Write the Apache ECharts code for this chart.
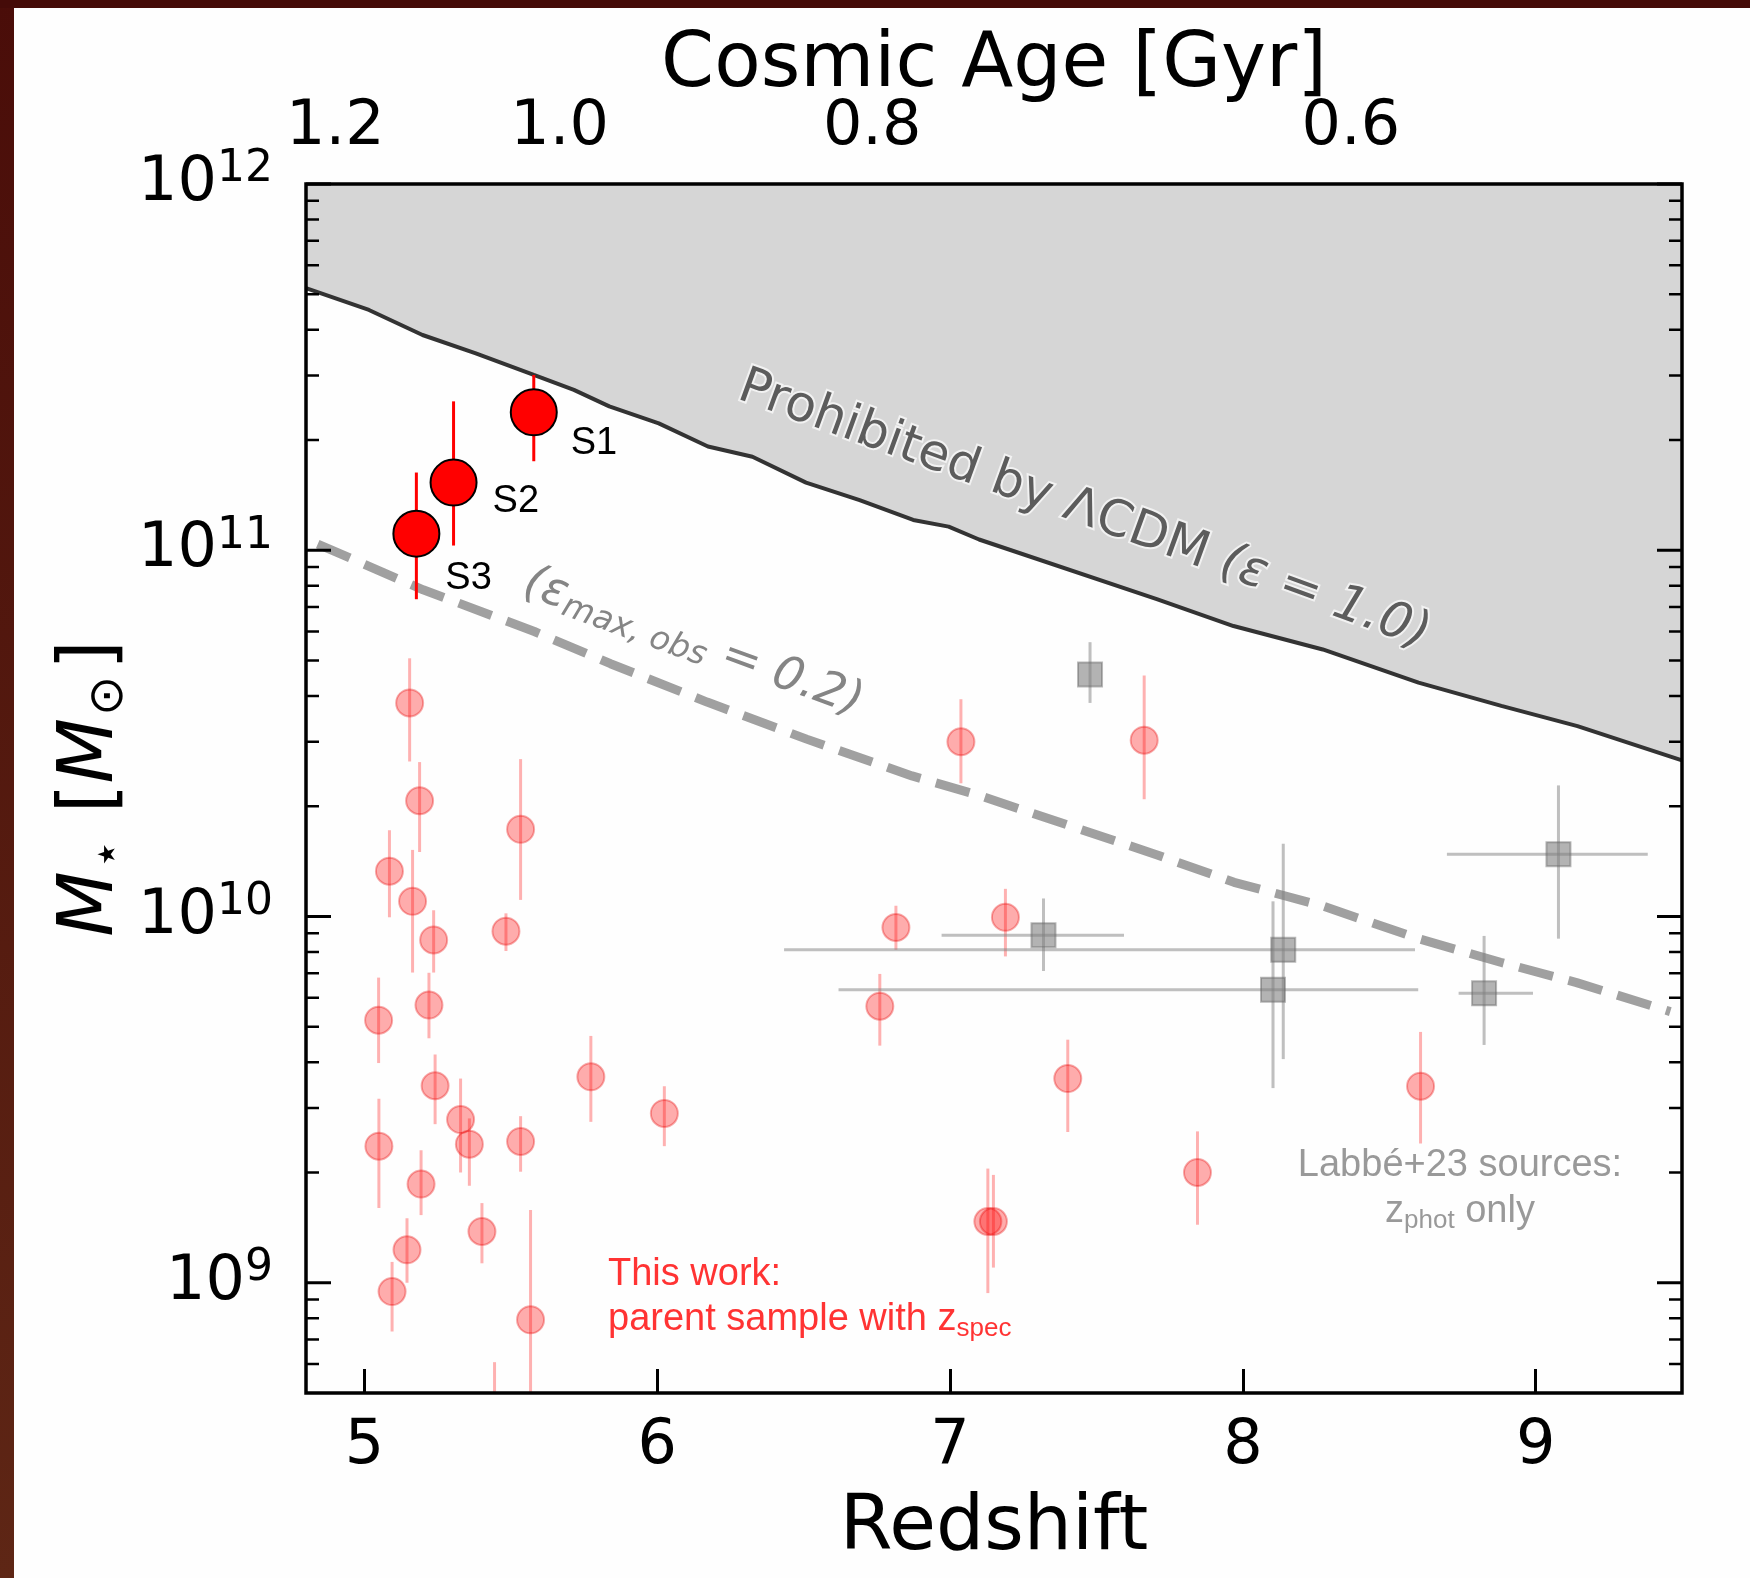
<!DOCTYPE html>
<html>
<head>
<meta charset="utf-8">
<script src="https://cdn.jsdelivr.net/npm/echarts@6/dist/echarts.min.js"></script>
<style>
  html, body { margin: 0; padding: 0; background: #fefefe; }
  #chart { width: 1750px; height: 1578px; }
</style>
</head>
<body>
<div id="chart"></div>
<script>
// ---- axis ticks and labels ----
const zTicks = [5, 6, 7, 8, 9];
const ageLabels = ['1.2', '1.0', '0.8', '0.6'];
const ageTickZ = [4.90, 5.666, 6.734, 8.369];
const massMajor = [1e9, 1e10, 1e11, 1e12];
const massMinor = [6e8, 7e8, 8e8, 9e8,
  2e9, 3e9, 4e9, 5e9, 6e9, 7e9, 8e9, 9e9,
  2e10, 3e10, 4e10, 5e10, 6e10, 7e10, 8e10, 9e10,
  2e11, 3e11, 4e11, 5e11, 6e11, 7e11, 8e11, 9e11];

// ---- LCDM maximum stellar mass (epsilon = 1.0) ----
const limitZ = [4.80, 5.015, 5.198, 5.380, 5.578, 5.715, 5.836, 6.005, 6.173, 6.325, 6.508,
  6.691, 6.874, 6.995, 7.099, 7.706, 7.968, 8.273, 8.600, 8.883, 9.143, 9.50];
const limitMass = [5.20e11, 4.53e11, 3.87e11, 3.45e11, 3.01e11, 2.74e11, 2.47e11, 2.22e11, 1.92e11,
  1.80e11, 1.53e11, 1.37e11, 1.21e11, 1.16e11, 1.07e11, 7.35e10, 6.21e10, 5.36e10, 4.35e10,
  3.76e10, 3.31e10, 2.67e10];

// ---- epsilon_max,obs = 0.2 curve ----
const obsZ = [4.84, 5.20, 5.58, 5.84, 6.17, 6.51, 6.87, 7.10, 7.71, 7.97, 8.27, 8.60, 8.88, 9.14, 9.46];
const obsMass = [1.04e11, 7.8e10, 6.0e10, 4.9e10, 3.85e10, 3.05e10, 2.42e10, 2.14e10, 1.47e10,
  1.24e10, 1.07e10, 8.7e9, 7.5e9, 6.6e9, 5.5e9];

// ---- parent sample with spectroscopic redshifts ----
const parentZ = [5.154, 5.188, 5.085, 5.164, 5.236, 5.483, 5.533, 5.048, 5.220, 5.241, 5.328,
  5.358, 5.049, 5.193, 5.533, 5.773, 6.024, 5.401, 5.145, 5.094, 5.567, 5.444,
  7.037, 7.663, 6.815, 7.189, 6.760, 7.402, 8.607, 7.845, 7.129, 7.148];
const parentMass = [3.83e10, 2.07e10, 1.33e10, 1.10e10, 8.63e9, 9.12e9, 1.73e10, 5.21e9, 5.73e9,
  3.45e9, 2.79e9, 2.39e9, 2.36e9, 1.86e9, 2.43e9, 3.65e9, 2.90e9, 1.38e9, 1.23e9, 9.46e8,
  7.92e8, 4.0e8,
  3.00e10, 3.03e10, 9.33e9, 9.95e9, 5.69e9, 3.61e9, 3.44e9, 2.00e9, 1.47e9, 1.47e9];
const parentMassLo = [2.65e10, 1.50e10, 9.95e9, 7.03e9, 7.03e9, 8.05e9, 1.11e10, 3.98e9, 4.65e9,
  2.71e9, 2.00e9, 1.84e9, 1.60e9, 1.53e9, 2.01e9, 2.75e9, 2.36e9, 1.13e9, 1.00e9, 7.36e8,
  3.0e8, 2.0e8,
  2.31e10, 2.09e10, 8.11e9, 7.78e9, 4.44e9, 2.58e9, 2.40e9, 1.44e9, 9.37e8, 1.10e9];
const parentMassHi = [5.07e10, 2.64e10, 1.72e10, 1.52e10, 1.04e10, 1.02e10, 2.69e10, 6.81e9, 7.02e9,
  4.20e9, 3.61e9, 2.81e9, 3.18e9, 2.30e9, 2.85e9, 4.72e9, 3.44e9, 1.65e9, 1.50e9, 1.14e9,
  1.58e9, 6.07e8,
  3.92e10, 4.55e10, 1.07e10, 1.19e10, 6.97e9, 4.61e9, 4.84e9, 2.59e9, 2.05e9, 1.97e9];

// ---- Labbe+23 photometric sources ----
const labbeZ = [7.478, 7.319, 8.138, 8.103, 8.824, 9.078];
const labbeZLo = [7.478, 6.971, 6.433, 6.619, 8.737, 8.697];
const labbeZHi = [7.478, 7.594, 8.588, 8.599, 8.991, 9.383];
const labbeMass = [4.58e10, 8.89e9, 8.11e9, 6.31e9, 6.17e9, 1.48e10];
const labbeMassLo = [3.83e10, 7.10e9, 4.08e9, 3.40e9, 4.46e9, 8.70e9];
const labbeMassHi = [5.61e10, 1.12e10, 1.58e10, 1.10e10, 8.85e9, 2.28e10];

// ---- massive sources S1-S3 ----
const sNames = ['S1', 'S2', 'S3'];
const sZ = [5.578, 5.304, 5.177];
const sMass = [2.38e11, 1.53e11, 1.11e11];
const sMassLo = [1.75e11, 1.03e11, 7.35e10];
const sMassHi = [3.01e11, 2.55e11, 1.63e11];

// ------------------------------------------------------------------
const X_MIN = 4.8, X_MAX = 9.5, Y_MIN = 5e8, Y_MAX = 1e12;
const GRID = { left: 306, top: 184, width: 1376, height: 1209 };
const SANS = 'DejaVu Sans';
const HELV = 'Liberation Sans';

const zip = (...cols) => cols[0].map((_, i) => cols.map(c => c[i]));

function vErrItem(params, api, color, width) {
  const p0 = api.coord([api.value(0), api.value(1)]);
  const p1 = api.coord([api.value(0), api.value(2)]);
  return { type: 'line', shape: { x1: p0[0], y1: p0[1], x2: p1[0], y2: p1[1] },
           style: { stroke: color, lineWidth: width } };
}
function hErrItem(params, api, color, width) {
  const p0 = api.coord([api.value(0), api.value(1)]);
  const p1 = api.coord([api.value(2), api.value(1)]);
  return { type: 'line', shape: { x1: p0[0], y1: p0[1], x2: p1[0], y2: p1[1] },
           style: { stroke: color, lineWidth: width } };
}
function yTickRenderer(len, width) {
  return (params, api) => {
    const cs = params.coordSys;
    const y = api.coord([api.value(0), api.value(1)])[1];
    return { type: 'group', children: [
      { type: 'line', shape: { x1: cs.x, y1: y, x2: cs.x + len, y2: y },
        style: { stroke: '#000', lineWidth: width } },
      { type: 'line', shape: { x1: cs.x + cs.width - len, y1: y, x2: cs.x + cs.width, y2: y },
        style: { stroke: '#000', lineWidth: width } }
    ] };
  };
}

const chart = echarts.init(document.getElementById('chart'), null, { renderer: 'canvas' });

const option = {
  backgroundColor: '#fefefe',
  animation: false,
  grid: Object.assign({ outerBoundsMode: 'none', containLabel: false }, GRID),
  xAxis: [
    {
      type: 'value', position: 'bottom', min: X_MIN, max: X_MAX,
      axisLine: { show: false }, splitLine: { show: false },
      axisTick: { show: true, inside: true, length: 24, customValues: zTicks,
                  lineStyle: { color: '#000', width: 3 } },
      axisLabel: { customValues: zTicks, fontSize: 62, fontFamily: SANS, color: '#000', margin: 23 },
      name: 'Redshift', nameLocation: 'middle', nameGap: 98, nameMoveOverlap: false,
      nameTextStyle: { fontSize: 76, fontFamily: SANS, color: '#000' }
    },
    {
      type: 'value', position: 'top', min: X_MIN, max: X_MAX,
      axisLine: { show: false }, splitLine: { show: false },
      axisTick: { show: true, inside: true, length: 25, customValues: ageTickZ,
                  lineStyle: { color: '#000', width: 3 } },
      axisLabel: {
        customValues: ageTickZ, fontSize: 62, fontFamily: SANS, color: '#000', margin: 25,
        formatter: v => {
          let best = 0;
          ageTickZ.forEach((z, i) => { if (Math.abs(z - v) < Math.abs(ageTickZ[best] - v)) best = i; });
          return ageLabels[best];
        }
      },
      name: 'Cosmic Age [Gyr]', nameLocation: 'middle', nameGap: 80, nameMoveOverlap: false,
      nameTextStyle: { fontSize: 76, fontFamily: SANS, color: '#000' }
    }
  ],
  yAxis: [
    {
      type: 'log', logBase: 10, min: Y_MIN, max: Y_MAX,
      axisLine: { show: false }, splitLine: { show: false },
      axisTick: { show: false }, minorTick: { show: false },
      axisLabel: {
        margin: 33,
        formatter: v => {
          const e = Math.log10(v), n = Math.round(e);
          return Math.abs(e - n) < 1e-6 && massMajor.some(m => Math.abs(Math.log10(m) - n) < 1e-6)
            ? '{b|10}{s|' + n + '}' : '';
        },
        rich: {
          b: { fontSize: 62, fontFamily: SANS, color: '#000', lineHeight: 72 },
          s: { fontSize: 44, fontFamily: SANS, color: '#000', lineHeight: 40, verticalAlign: 'top' }
        }
      },
      name: '{i|M}{st|⋆}{n|[}{i|M}{sun|⊙}{n|]}',
      nameLocation: 'middle', nameGap: 172, nameMoveOverlap: false,
      nameTextStyle: {
        rich: {
          i: { fontSize: 76, fontFamily: SANS, fontStyle: 'italic', color: '#000', lineHeight: 84 },
          n: { fontSize: 76, fontFamily: SANS, color: '#000', lineHeight: 84 },
          st: { fontSize: 48, fontFamily: SANS, color: '#000', lineHeight: 42, verticalAlign: 'bottom',
                padding: [0, 26, 0, 2] },
          sun: { fontSize: 48, fontFamily: SANS, color: '#000', lineHeight: 48, verticalAlign: 'bottom',
                 padding: [0, 6, 0, 2] }
        }
      }
    }
  ],
  series: [
    {
      name: 'LCDM limit', type: 'line', z: 1,
      data: zip(limitZ, limitMass), showSymbol: false, symbol: 'none',
      lineStyle: { color: '#333333', width: 4 },
      areaStyle: { color: '#d6d6d6', opacity: 1, origin: 'end' },
      silent: true
    },
    {
      name: 'eps obs', type: 'line', z: 2,
      data: zip(obsZ, obsMass), showSymbol: false, symbol: 'none',
      lineStyle: { color: '#a0a0a0', width: 9, type: [35, 16], cap: 'butt' },
      silent: true
    },
    {
      name: 'parent err', type: 'custom', z: 3, clip: true,
      data: zip(parentZ, parentMassLo, parentMassHi),
      encode: { x: 0, y: [1, 2] },
      renderItem: (p, api) => vErrItem(p, api, 'rgba(255,0,0,0.3)', 3)
    },
    {
      name: 'parent', type: 'scatter', z: 4,
      data: zip(parentZ, parentMass), symbol: 'circle', symbolSize: 27,
      itemStyle: { color: 'rgba(255,0,0,0.32)', borderColor: 'rgba(230,0,0,0.32)', borderWidth: 2, opacity: 1 }
    },
    {
      name: 'labbe yerr', type: 'custom', z: 5, clip: true,
      data: zip(labbeZ, labbeMassLo, labbeMassHi),
      encode: { x: 0, y: [1, 2] },
      renderItem: (p, api) => vErrItem(p, api, 'rgba(128,128,128,0.5)', 3)
    },
    {
      name: 'labbe xerr', type: 'custom', z: 5, clip: true,
      data: zip(labbeZLo, labbeMass, labbeZHi),
      encode: { x: [0, 2], y: 1 },
      renderItem: (p, api) => hErrItem(p, api, 'rgba(128,128,128,0.5)', 3)
    },
    {
      name: 'labbe', type: 'scatter', z: 6,
      data: zip(labbeZ, labbeMass), symbol: 'rect', symbolSize: 24,
      itemStyle: { color: 'rgba(128,128,128,0.6)', borderColor: 'rgba(100,100,100,0.45)', borderWidth: 2, opacity: 1 }
    },
    {
      name: 'S err', type: 'custom', z: 7, clip: true,
      data: zip(sZ, sMassLo, sMassHi),
      encode: { x: 0, y: [1, 2] },
      renderItem: (p, api) => vErrItem(p, api, '#ff0000', 3)
    },
    {
      name: 'S', type: 'scatter', z: 8,
      data: sZ.map((z, i) => ({
        value: [z, sMass[i]], name: sNames[i],
        label: { offset: [[13, 31], [15, 19], [5, 45]][i] }
      })),
      symbol: 'circle', symbolSize: 46,
      itemStyle: { color: '#ff0000', borderColor: '#000', borderWidth: 2, opacity: 1 },
      label: { show: true, position: 'right', distance: 0, formatter: '{b}',
               fontSize: 38, fontFamily: HELV, color: '#000' }
    },
    {
      name: 'major ticks', type: 'custom', z: 20, silent: true,
      data: massMajor.map(v => [X_MIN, v]),
      renderItem: yTickRenderer(25, 3)
    },
    {
      name: 'minor ticks', type: 'custom', z: 20, silent: true,
      data: massMinor.map(v => [X_MIN, v]),
      renderItem: yTickRenderer(13, 2.5)
    }
  ],
  graphic: [
    // page edge strips
    { type: 'rect', z: 100, shape: { x: 0, y: 0, width: 14, height: 1578 },
      style: { fill: new echarts.graphic.LinearGradient(0, 0, 0, 1, [
        { offset: 0, color: '#4a0d09' }, { offset: 1, color: '#5e2615' }]) } },
    { type: 'rect', z: 100, shape: { x: 0, y: 0, width: 1750, height: 8 },
      style: { fill: '#450b08' } },
    // plot frame
    { type: 'rect', z: 100, shape: { x: GRID.left, y: GRID.top, width: GRID.width, height: GRID.height },
      style: { fill: 'none', stroke: '#000', lineWidth: 3.5 } },
    // region annotations
    { type: 'text', z: 90, x: 1084, y: 511, rotation: -20 * Math.PI / 180,
      style: {
        text: '{n|Prohibited by ΛCDM }{i|(ε = 1.0)}',
        align: 'center', verticalAlign: 'middle',
        rich: {
          n: { fontSize: 50, fontFamily: SANS, fill: '#5c5c5c', stroke: '#f2f2f2', lineWidth: 4 },
          i: { fontSize: 50, fontFamily: SANS, fontStyle: 'italic', fill: '#5c5c5c', stroke: '#f2f2f2', lineWidth: 4 }
        }
      } },
    { type: 'text', z: 90, x: 693, y: 643, rotation: -20 * Math.PI / 180,
      style: {
        text: '{i|(ε}{sub|max, obs}{i| = 0.2)}',
        align: 'center', verticalAlign: 'middle',
        rich: {
          i: { fontSize: 47, fontFamily: SANS, fontStyle: 'italic', fill: '#858585', lineHeight: 52 },
          sub: { fontSize: 33, fontFamily: SANS, fontStyle: 'italic', fill: '#858585', lineHeight: 36, verticalAlign: 'bottom' }
        }
      } },
    // legend notes
    { type: 'text', z: 90, x: 608, y: 1275,
      style: { text: 'This work:', fontSize: 38, fontFamily: HELV, fill: '#ff3333',
               align: 'left', verticalAlign: 'middle' } },
    { type: 'text', z: 90, x: 608, y: 1320,
      style: {
        text: '{r|parent sample with z}{sub|spec}', align: 'left', verticalAlign: 'middle',
        rich: {
          r: { fontSize: 38, fontFamily: HELV, fill: '#ff3333', lineHeight: 44 },
          sub: { fontSize: 26, fontFamily: HELV, fill: '#ff3333', lineHeight: 26, verticalAlign: 'bottom' }
        }
      } },
    { type: 'text', z: 90, x: 1460, y: 1166,
      style: { text: 'Labbé+23 sources:', fontSize: 38, fontFamily: HELV, fill: '#999999',
               align: 'center', verticalAlign: 'middle' } },
    { type: 'text', z: 90, x: 1460, y: 1212,
      style: {
        text: '{r|z}{sub|phot}{r| only}', align: 'center', verticalAlign: 'middle',
        rich: {
          r: { fontSize: 38, fontFamily: HELV, fill: '#999999', lineHeight: 44 },
          sub: { fontSize: 26, fontFamily: HELV, fill: '#999999', lineHeight: 26, verticalAlign: 'bottom' }
        }
      } }
  ]
};

chart.setOption(option);
</script>
</body>
</html>
